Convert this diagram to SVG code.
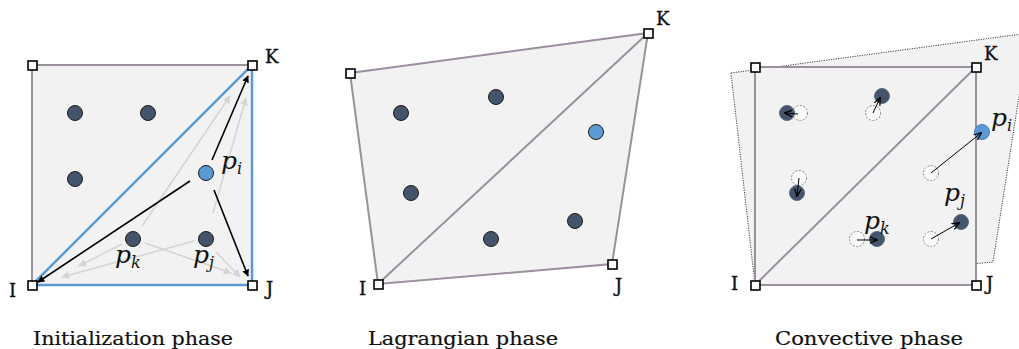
<svg xmlns="http://www.w3.org/2000/svg" width="1019" height="349" viewBox="0 0 1019 349">
<style>
.fill{fill:#f2f2f2}
.edge{stroke:#9b8fa0;stroke-width:2;fill:none}
.blue{stroke:#5b9bd5;stroke-width:2.5;fill:none}
.h{fill:#fff;stroke:#000;stroke-width:1.6}
.d{fill:#44546a;stroke:#1a1a1a;stroke-width:1}
.b{fill:#5b9bd5;stroke:#1a1a1a;stroke-width:1}
.d3{fill:#44546a;stroke:#5a6a80;stroke-width:1}
.b3{fill:#5b9bd5;stroke:#3f7fc0;stroke-width:1}
.o{fill:#fafafa;stroke:#888;stroke-width:1;stroke-dasharray:2,1.5}
.lbl{font-family:"DejaVu Serif","Liberation Serif",serif;font-size:18px;fill:#111;stroke:#111;stroke-width:0.35}
.cap{font-family:"DejaVu Serif","Liberation Serif",serif;font-size:18px;fill:#111;stroke:#111;stroke-width:0.2}
.m{font-family:"DejaVu Serif","Liberation Serif",serif;font-style:italic;font-size:25px;fill:#111}
.s{font-size:16px}
.ka{stroke:#000;stroke-width:1.6;fill:none;marker-end:url(#ah)}
.ga{stroke:#d4d4d4;stroke-width:1.5;fill:none;marker-end:url(#gh)}
.ta{stroke:#000;stroke-width:1;fill:none;marker-end:url(#th)}
</style>
<defs>
<marker id="ah" viewBox="0 0 10 10" refX="9" refY="5" markerWidth="7" markerHeight="7" orient="auto" markerUnits="userSpaceOnUse"><path d="M0,0 L10,5 L0,10 z" fill="#000"/></marker>
<marker id="gh" viewBox="0 0 10 10" refX="9" refY="5" markerWidth="8" markerHeight="8" orient="auto" markerUnits="userSpaceOnUse"><path d="M0,0 L10,5 L0,10 z" fill="#d4d4d4"/></marker>
<marker id="th" viewBox="0 0 10 10" refX="9" refY="5" markerWidth="8" markerHeight="8" orient="auto" markerUnits="userSpaceOnUse"><path d="M0,1 L10,5 L0,9" fill="none" stroke="#000" stroke-width="1.5"/></marker>
</defs>

<g id="panel1">
<rect class="fill" x="32" y="65" width="220" height="220"/>
<path class="edge" d="M32,285 L32,65 L252,65"/>
<path class="blue" d="M32,285 L252,65 L252,285 Z"/>
</g>
<g id="connectors1">
<line class="ga" x1="142" y1="226" x2="230" y2="96"/>
<line class="ga" x1="213" y1="213" x2="246" y2="98"/>
<line class="ga" x1="145" y1="243" x2="231" y2="273"/>
<line class="ga" x1="216" y1="252" x2="240" y2="277"/>
<line class="ga" x1="122" y1="244" x2="79" y2="266"/>
<line class="ga" x1="194" y1="241" x2="62" y2="277"/>
<line class="ka" x1="212" y1="160" x2="248" y2="76"/>
<line class="ka" x1="214" y1="190" x2="248" y2="276"/>
<line class="ka" x1="190" y1="181" x2="38" y2="282"/>
</g>
<g id="p1-dots">
<circle class="d" cx="75" cy="113" r="7.5"/>
<circle class="d" cx="148" cy="113" r="7.5"/>
<circle class="d" cx="75" cy="179" r="7.5"/>
<circle class="b" cx="206" cy="173" r="7.5"/>
<circle class="d" cx="133" cy="239" r="7.5"/>
<circle class="d" cx="206" cy="239" r="7.5"/>
</g>
<g id="p1-nodes">
<rect class="h" x="28" y="61" width="9" height="9"/>
<rect class="h" x="248" y="61" width="9" height="9"/>
<rect class="h" x="28" y="281" width="9" height="9"/>
<rect class="h" x="248" y="281" width="9" height="9"/>
<text class="lbl" x="265" y="63">K</text>
<text class="lbl" x="9" y="297">I</text>
<text class="lbl" x="266" y="295">J</text>
<text class="m" x="221" y="169">p<tspan class="s" dy="5">i</tspan></text>
<text class="m" x="115" y="263">p<tspan class="s" dy="5">k</tspan></text>
<text class="m" x="193" y="263">p<tspan class="s" dy="5">j</tspan></text>
</g>
<text class="cap" x="133" y="345" text-anchor="middle" textLength="200" lengthAdjust="spacingAndGlyphs">Initialization phase</text>

<g id="panel2">
<path class="fill" d="M350,73 L648,33 L612,264 L378,284 Z"/>
<path class="edge" d="M350,73 L648,33 L612,264 L378,284 Z M378,284 L648,33"/>
<circle class="d" cx="401" cy="113" r="7.5"/>
<circle class="d" cx="496" cy="97" r="7.5"/>
<circle class="b" cx="596" cy="132" r="7.5"/>
<circle class="d" cx="411" cy="193" r="7.5"/>
<circle class="d" cx="491" cy="239" r="7.5"/>
<circle class="d" cx="575" cy="221" r="7.5"/>
<rect class="h" x="346" y="69" width="9" height="9"/>
<rect class="h" x="644" y="29" width="9" height="9"/>
<rect class="h" x="608" y="260" width="9" height="9"/>
<rect class="h" x="374" y="280" width="9" height="9"/>
<text class="lbl" x="656" y="25">K</text>
<text class="lbl" x="359" y="295">I</text>
<text class="lbl" x="615" y="292">J</text>
</g>
<text class="cap" x="463" y="345" text-anchor="middle" textLength="190" lengthAdjust="spacingAndGlyphs">Lagrangian phase</text>

<g id="panel3">
<path d="M731,73 L1029,33 L993,262 L755,285 Z" fill="#f2f2f2" stroke="#444" stroke-width="1" stroke-dasharray="1.2,1.2"/>
<rect class="fill" x="755" y="67" width="221" height="218"/>
<path class="edge" d="M755,285 L755,67 L976,67 L976,285 Z M755,285 L976,67"/>
</g>
<g id="p3-particles">
<circle class="o" cx="800" cy="113" r="7.5"/>
<circle class="d3" cx="787" cy="113" r="7.5"/>
<circle class="o" cx="873" cy="113" r="7.5"/>
<circle class="d3" cx="882" cy="96" r="7.5"/>
<circle class="o" cx="931" cy="173" r="7.5"/>
<circle class="b3" cx="982" cy="132" r="7.5"/>
<circle class="o" cx="799" cy="178" r="7.5"/>
<circle class="d3" cx="797" cy="193" r="7.5"/>
<circle class="o" cx="857" cy="239" r="7.5"/>
<circle class="d3" cx="877" cy="239" r="7.5"/>
<circle class="o" cx="931" cy="239" r="7.5"/>
<circle class="d3" cx="961" cy="222" r="7.5"/>
</g>
<g id="connectors3">
<line class="ta" x1="798" y1="114" x2="785" y2="113"/>
<line class="ta" x1="873" y1="113" x2="880" y2="98"/>
<line class="ta" x1="931" y1="173" x2="981" y2="133"/>
<line class="ta" x1="799" y1="178" x2="797" y2="196"/>
<line class="ta" x1="857" y1="240" x2="877" y2="240"/>
<line class="ta" x1="931" y1="239" x2="959" y2="223"/>
</g>
<g id="p3-nodes">
<rect class="h" x="751" y="63" width="9" height="9"/>
<rect class="h" x="972" y="63" width="9" height="9"/>
<rect class="h" x="751" y="281" width="9" height="9"/>
<rect class="h" x="972" y="281" width="9" height="9"/>
<text class="lbl" x="984" y="60">K</text>
<text class="lbl" x="731" y="290">I</text>
<text class="lbl" x="986" y="290">J</text>
<text class="m" x="991" y="126">p<tspan class="s" dy="5">i</tspan></text>
<text class="m" x="864" y="229">p<tspan class="s" dy="5">k</tspan></text>
<text class="m" x="944" y="201">p<tspan class="s" dy="5">j</tspan></text>
</g>
<text class="cap" x="869" y="345" text-anchor="middle" textLength="188" lengthAdjust="spacingAndGlyphs">Convective phase</text>
</svg>
